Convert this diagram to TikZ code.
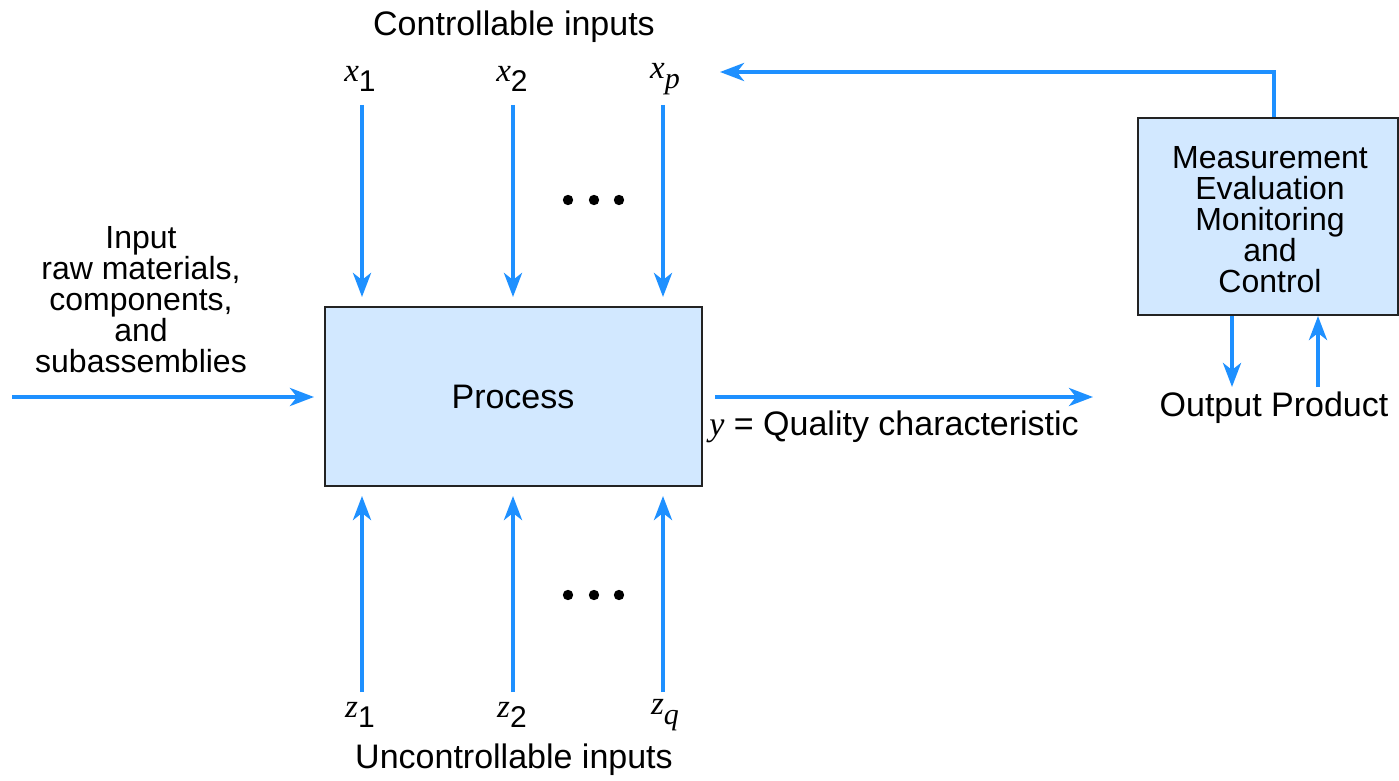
\documentclass[tikz,border=0pt]{standalone}
\usepackage{fontspec}
\setmainfont{Liberation Sans}
\newfontfamily\serifit[ItalicFont={Liberation Serif Italic}]{Liberation Serif}
\usetikzlibrary{arrows.meta}
\definecolor{flowblue}{RGB}{30,144,255}
\definecolor{boxfill}{RGB}{210,232,255}
\definecolor{boxline}{RGB}{35,35,35}
\newcommand\svar[2]{{\serifit\itshape\fontsize{16.5}{16.5}\selectfont #1}\raisebox{-5pt}{#2}}
\tikzset{
  arr/.style={draw=flowblue, line width=2pt, -{Stealth[length=12pt,width=9pt,inset=3.5pt]}},
  blk/.style={draw=boxline, line width=1pt, fill=boxfill, inner sep=0pt},
  lbl/.style={font=\fontsize{17}{17}\selectfont, inner sep=0pt},
  mlbl/.style={font=\fontsize{16}{16}\selectfont, align=center, inner sep=0pt},
  dotc/.style={fill=black}
}
\begin{document}
\begin{tikzpicture}[x=0.5pt,y=-0.5pt]
\useasboundingbox (0,0) rectangle (1399,781);
% boxes
\node[blk, minimum width=188.5pt, minimum height=89.5pt] (proc) at (513.5,396.5) {};
\node[lbl] (proctext) at (513,397) {Process};
\node[blk, minimum width=130pt, minimum height=98.5pt] (meas) at (1268,216.5) {};
\node[mlbl] (meastext) at (1270,220) {Measurement\\[-0.5pt]Evaluation\\[-0.5pt]Monitoring\\[-0.5pt]and\\[-0.5pt]Control};
% top labels
\node[lbl] (ctrl) at (514,27) {Controllable inputs};
\node[inner sep=0pt, font=\fontsize{15}{15}\selectfont] (x1) at (360,79) {\svar{x}{1}};
\node[inner sep=0pt, font=\fontsize{15}{15}\selectfont] (x2) at (512,79) {\svar{x}{2}};
\node[inner sep=0pt, font=\fontsize{15}{15}\selectfont] (xp) at (665,79) {\svar{x}{\serifit\itshape p}};
% bottom labels
\node[lbl] (unctrl) at (514,760) {Uncontrollable inputs};
\node[inner sep=0pt, font=\fontsize{15}{15}\selectfont] (z1) at (360,715) {\svar{z}{1}};
\node[inner sep=0pt, font=\fontsize{15}{15}\selectfont] (z2) at (512,715) {\svar{z}{2}};
\node[inner sep=0pt, font=\fontsize{15}{15}\selectfont] (zq) at (665,715) {\svar{z}{\serifit\itshape q}};
% coordinates for arrow starts
\coordinate (x1s) at (362,105);
\coordinate (x2s) at (513,105);
\coordinate (xps) at (663,105);
\coordinate (z1s) at (362,692);
\coordinate (z2s) at (513,692);
\coordinate (zqs) at (663,692);
\coordinate (ins) at (12,397);
\coordinate (outs) at (715,397);
\coordinate (oute) at (1093,397);
\coordinate (fbtop) at (1274,72);
\coordinate (fbend) at (720,72);
\coordinate (outp) at (1232,387);
\coordinate (prodp) at (1318,387);
% top arrows
\draw[arr, shorten >=4.5pt] (x1s) -- (x1s |- proc.north);
\draw[arr, shorten >=4.5pt] (x2s) -- (x2s |- proc.north);
\draw[arr, shorten >=4.5pt] (xps) -- (xps |- proc.north);
% bottom arrows
\draw[arr, shorten >=4.5pt] (z1s) -- (z1s |- proc.south);
\draw[arr, shorten >=4.5pt] (z2s) -- (z2s |- proc.south);
\draw[arr, shorten >=4.5pt] (zqs) -- (zqs |- proc.south);
% dots
\foreach \dx in {568,594,619}{
  \fill[dotc] (\dx,200) circle (2.6pt);
  \fill[dotc] (\dx,595) circle (2.6pt);
}
% input
\node[mlbl] (intext) at (141,300) {Input\\[-0.5pt]raw materials,\\[-0.5pt]components,\\[-0.5pt]and\\[-0.5pt]subassemblies};
\draw[arr, shorten >=5pt] (ins) -- (ins -| proc.west);
% output
\draw[arr] (outs) -- (oute);
\node[lbl, anchor=west] (ytext) at (709,427) {{\serifit\itshape y} = Quality characteristic};
% feedback
\draw[arr] (meas.north -| fbtop) -- (fbtop) -- (fbend);
% output/product
\draw[arr] (meas.south -| outp) -- (outp);
\draw[arr] (prodp) -- (meas.south -| prodp);
\node[lbl] (optext) at (1274,408) {Output Product};
\end{tikzpicture}
\end{document}
